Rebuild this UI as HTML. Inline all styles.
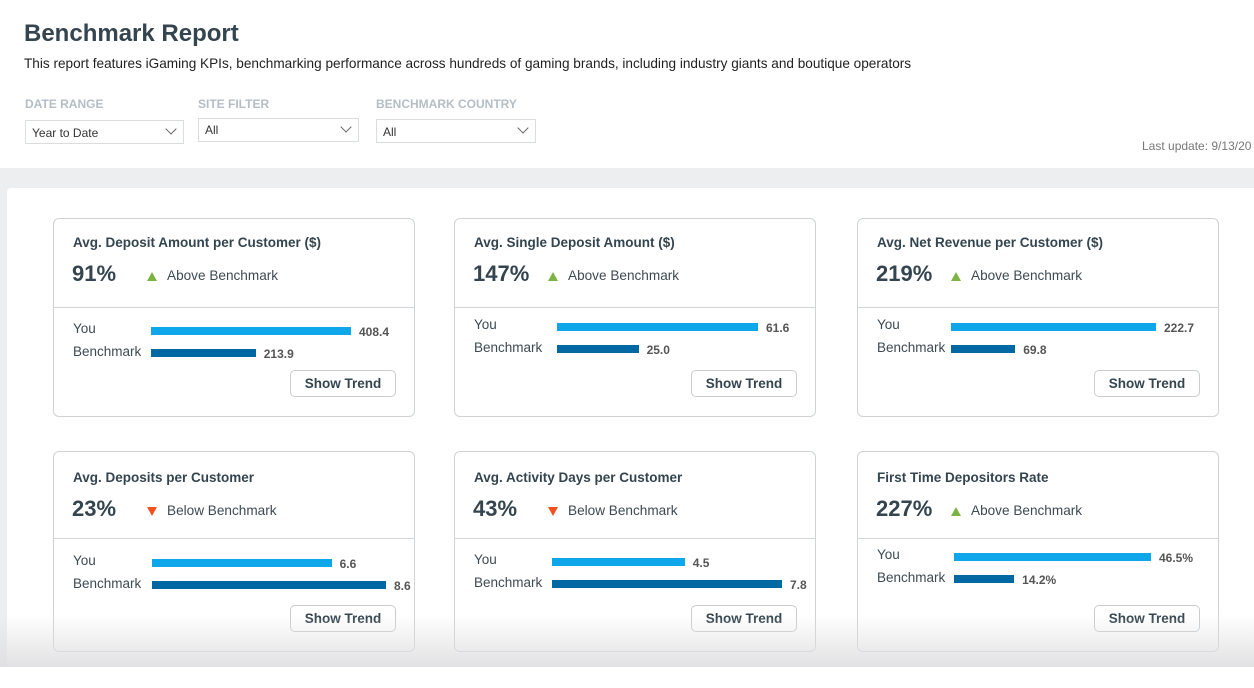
<!DOCTYPE html>
<html><head><meta charset="utf-8"><style>
*{box-sizing:border-box;margin:0;padding:0}
body{width:1254px;height:667px;overflow:hidden;background:#fff;font-family:"Liberation Sans",Arial,sans-serif;color:#3a4750;position:relative}
.abs{position:absolute}
h1{position:absolute;left:24px;top:20px;font-size:24px;font-weight:bold;color:#34454f}
.sub{left:24px;top:56px;font-size:13.6px;color:#222;white-space:nowrap}
.flabel{font-size:12px;font-weight:bold;color:#b4bec6;top:97px}
.sel{top:119px;height:24px;border:1px solid #d9dde0;background:#fff;font-size:12px;color:#333;padding:5px 6px}
.chev{position:absolute;right:8px;top:4px;width:8px;height:8px;border-right:1px solid #666;border-bottom:1px solid #666;transform:rotate(45deg)}
.gray{left:0;top:168px;width:1254px;height:499px;background:#edeef0}
.panel{left:7px;top:188px;width:1260px;height:500px;background:#fff;border-radius:4px}
.card{border:1px solid #cfd3d6;border-radius:6px;background:#fff}
.title{font-size:13.5px;font-weight:bold;color:#34454f}
.pct{font-size:22px;font-weight:bold;color:#34454f}
.status{font-size:13.6px;color:#3d4a52}
.lbl{font-size:13.5px;color:#3d4a52}
.val{font-size:12px;font-weight:bold;color:#555}
.btn{border:1px solid #c9cdd0;border-radius:5px;font-size:13.5px;font-weight:bold;color:#34454f;text-align:center;line-height:25px;background:#fff}
.fade{left:0;top:615px;width:1254px;height:52px;background:linear-gradient(rgba(230,230,232,0),rgba(222,222,224,0.9))}
</style></head><body>
<h1>Benchmark Report</h1>
<div class="abs sub">This report features iGaming KPIs, benchmarking performance across hundreds of gaming brands, including industry giants and boutique operators</div>
<div class="abs flabel" style="left:25px">DATE RANGE</div>
<div class="abs flabel" style="left:198px">SITE FILTER</div>
<div class="abs flabel" style="left:376px">BENCHMARK COUNTRY</div>
<div class="abs sel" style="left:25px;width:159px;top:120px">Year to Date<span class="chev"></span></div>
<div class="abs sel" style="left:198px;width:161px;top:118px;padding-top:4px">All<span class="chev"></span></div>
<div class="abs sel" style="left:376px;width:160px;top:119px">All<span class="chev"></span></div>
<div class="abs" style="left:1142px;top:139px;font-size:12px;color:#777;white-space:nowrap">Last update: 9/13/20</div>
<div class="abs gray"></div>
<div class="abs panel"></div>
<div id="cards"></div>
<div class="abs fade"></div>
<script>
const titles=["Avg. Deposit Amount per Customer ($)","Avg. Single Deposit Amount ($)","Avg. Net Revenue per Customer ($)","Avg. Deposits per Customer","Avg. Activity Days per Customer","First Time Depositors Rate"];
const pcts=["91%","147%","219%","23%","43%","227%"];
const above=[true,true,true,false,false,true];
const youVals=[408.4,61.6,222.7,6.6,4.5,46.5];
const benchVals=[213.9,25.0,69.8,8.6,7.8,14.2];
const units=["","","","","","%"];
// layout
const cardX=[53,454,857,53,454,857];
const cardY=[218,218,218,451,451,451];
const barX=[97,102,93,98,97,96];
const maxW=[200,201,205,234,230,197];
const youY=[107,103,103,106,105,100];
const root=document.getElementById('cards');
for(let i=0;i<6;i++){
  const c=document.createElement('div');
  c.className='abs card';
  c.style.cssText=`left:${cardX[i]}px;top:${cardY[i]}px;width:362px;height:${i<3?199:201}px`;
  
  
  const mx=Math.max(youVals[i],benchVals[i]);
  const yw=youVals[i]/mx*maxW[i], bw=benchVals[i]/mx*maxW[i];
  const fmt=v=>v.toFixed(1)+units[i];
  const tri=above[i]?'<span style="display:inline-block;width:0;height:0;border-left:5px solid transparent;border-right:5px solid transparent;border-bottom:9px solid #7cb342"></span>':'<span style="display:inline-block;width:0;height:0;border-left:5px solid transparent;border-right:5px solid transparent;border-top:9px solid #f4511e"></span>';
  const dy=i<3?0:2;
  const divY=i<3?88:86;
  const yy=youY[i];
  c.innerHTML=`
  <div class="abs title" style="left:19px;top:${16+dy}px;white-space:nowrap">${titles[i]}</div>
  <div class="abs pct" style="left:18px;top:${42+dy}px">${pcts[i]}</div>
  <div class="abs" style="left:93px;top:${49+dy}px">${tri}</div>
  <div class="abs status" style="left:113px;top:${49+dy}px;white-space:nowrap">${above[i]?'Above':'Below'} Benchmark</div>
  <div class="abs" style="left:0;top:${divY}px;width:360px;height:1px;background:#d3d6d9"></div>
  <div class="abs lbl" style="left:19px;top:${yy-5}px">You</div>
  <div class="abs lbl" style="left:19px;top:${yy+18}px">Benchmark</div>
  <div class="abs" style="left:${barX[i]}px;top:${yy+1}px;width:${yw}px;height:8px;background:#10a7ea"></div>
  <div class="abs" style="left:${barX[i]}px;top:${yy+23}px;width:${bw}px;height:8px;background:#0068a2"></div>
  <div class="abs val" style="left:${barX[i]+yw+8}px;top:${yy-1}px">${fmt(youVals[i])}</div>
  <div class="abs val" style="left:${barX[i]+bw+8}px;top:${yy+21}px">${fmt(benchVals[i])}</div>
  <div class="abs btn" style="left:236px;top:${i<3?151:153}px;width:106px;height:27px">Show Trend</div>`;
  root.appendChild(c);
}
</script>
</body></html>
